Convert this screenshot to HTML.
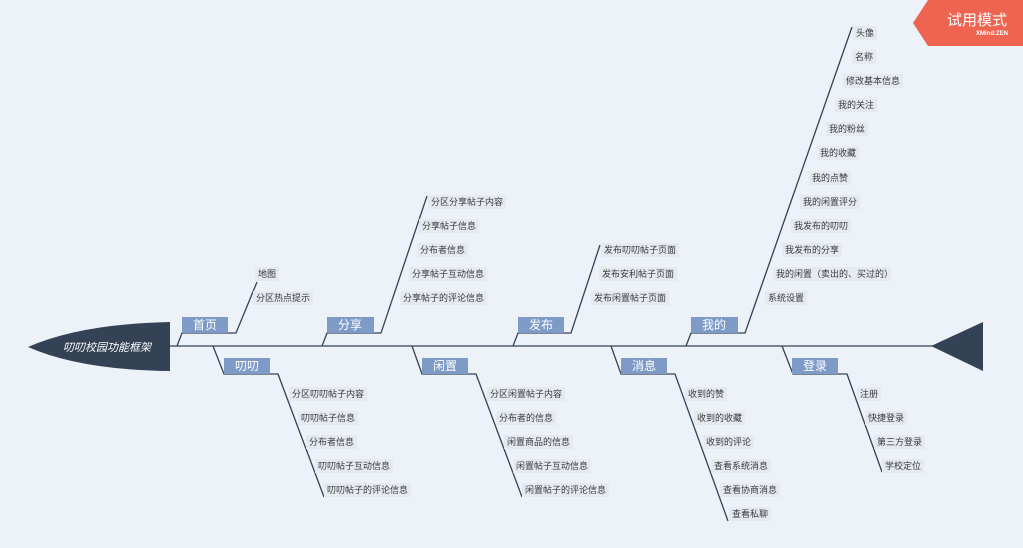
<!DOCTYPE html>
<html><head><meta charset="utf-8"><style>
html,body{margin:0;padding:0;background:#edf2f8;}
svg{display:block;font-family:"Liberation Sans","Noto Sans CJK SC",sans-serif;}
.lf{font-size:9px;fill:#3a3a3a;}
.lb{fill:#e5eaf1;}
.tp{fill:#7e9bc8;}
.tt{font-size:12px;fill:#fff;text-anchor:middle;}
.ln{stroke:#344256;stroke-width:1.3;fill:none;}
</style></head><body>
<svg width="1023" height="548" viewBox="0 0 1023 548">
<rect width="1023" height="548" fill="#edf2f8"/>
<!-- head -->
<path d="M28,347 Q80,324 170,322 L170,371 Q80,370 28,347 Z" fill="#344256"/>
<text x="107" y="351" font-size="11" fill="#fff" text-anchor="middle" font-style="italic">叨叨校园功能框架</text>
<line class="ln" x1="170" y1="346" x2="935" y2="346"/>
<polygon points="931,346 983,322 983,371" fill="#344256"/>
<!-- badge -->
<polygon points="913,23 928,0 1023,0 1023,46 928,46" fill="#ee6450"/>
<text x="977" y="25" font-size="15" fill="#fff" text-anchor="middle">试用模式</text>
<text x="1008" y="35" font-size="6" fill="#fff" text-anchor="end" font-weight="bold">XMind:ZEN</text>

<!-- upper topics -->
<polyline class="ln" points="177,346 182,333 236,333 257,282"/>
<rect class="tp" x="182" y="317" width="46" height="16"/><text class="tt" x="205" y="329">首页</text>
<polyline class="ln" points="322,346 327,333 381,333 427,196"/>
<rect class="tp" x="327" y="317" width="47" height="16"/><text class="tt" x="350" y="329">分享</text>
<polyline class="ln" points="513,346 518,333 571,333 600,245"/>
<rect class="tp" x="518" y="317" width="46" height="16"/><text class="tt" x="541" y="329">发布</text>
<polyline class="ln" points="686,346 691,333 745,333 852,27"/>
<rect class="tp" x="691" y="317" width="47" height="16"/><text class="tt" x="714" y="329">我的</text>

<!-- lower topics -->
<polyline class="ln" points="213,346 224,374 278,374 324,497"/>
<rect class="tp" x="224" y="358" width="46" height="16"/><text class="tt" x="247" y="370">叨叨</text>
<polyline class="ln" points="412,346 422,374 476,374 522,497"/>
<rect class="tp" x="422" y="358" width="46" height="16"/><text class="tt" x="445" y="370">闲置</text>
<polyline class="ln" points="611,346 621,374 675,374 728,521"/>
<rect class="tp" x="621" y="358" width="46" height="16"/><text class="tt" x="644" y="370">消息</text>
<polyline class="ln" points="782,346 793,374 847,374 882,472"/>
<rect class="tp" x="792" y="358" width="46" height="16"/><text class="tt" x="815" y="370">登录</text>

<g class="lf">
<rect class="lb" x="255" y="267" width="24" height="14"/><text x="258" y="277">地图</text>
<rect class="lb" x="253" y="291" width="60" height="14"/><text x="256" y="301">分区热点提示</text>
<rect class="lb" x="428" y="195" width="78" height="14"/><text x="431" y="205">分区分享帖子内容</text>
<rect class="lb" x="419" y="219" width="60" height="14"/><text x="422" y="229">分享帖子信息</text>
<rect class="lb" x="417" y="243" width="51" height="14"/><text x="420" y="253">分布者信息</text>
<rect class="lb" x="409" y="267" width="78" height="14"/><text x="412" y="277">分享帖子互动信息</text>
<rect class="lb" x="400" y="291" width="87" height="14"/><text x="403" y="301">分享帖子的评论信息</text>
<rect class="lb" x="601" y="243" width="78" height="14"/><text x="604" y="253">发布叨叨帖子页面</text>
<rect class="lb" x="599" y="267" width="78" height="14"/><text x="602" y="277">发布安利帖子页面</text>
<rect class="lb" x="591" y="291" width="78" height="14"/><text x="594" y="301">发布闲置帖子页面</text>
<rect class="lb" x="853" y="26" width="24" height="14"/><text x="856" y="36">头像</text>
<rect class="lb" x="852" y="50" width="24" height="14"/><text x="855" y="60">名称</text>
<rect class="lb" x="843" y="74" width="60" height="14"/><text x="846" y="84">修改基本信息</text>
<rect class="lb" x="835" y="98" width="42" height="14"/><text x="838" y="108">我的关注</text>
<rect class="lb" x="826" y="122" width="42" height="14"/><text x="829" y="132">我的粉丝</text>
<rect class="lb" x="817" y="146" width="42" height="14"/><text x="820" y="156">我的收藏</text>
<rect class="lb" x="809" y="171" width="42" height="14"/><text x="812" y="181">我的点赞</text>
<rect class="lb" x="800" y="195" width="60" height="14"/><text x="803" y="205">我的闲置评分</text>
<rect class="lb" x="791" y="219" width="60" height="14"/><text x="794" y="229">我发布的叨叨</text>
<rect class="lb" x="782" y="243" width="60" height="14"/><text x="785" y="253">我发布的分享</text>
<rect class="lb" x="773" y="267" width="118" height="14"/><text x="776" y="277">我的闲置（卖出的、买过的）</text>
<rect class="lb" x="765" y="291" width="42" height="14"/><text x="768" y="301">系统设置</text>
<rect class="lb" x="289" y="387" width="78" height="14"/><text x="292" y="397">分区叨叨帖子内容</text>
<rect class="lb" x="298" y="411" width="60" height="14"/><text x="301" y="421">叨叨帖子信息</text>
<rect class="lb" x="306" y="435" width="51" height="14"/><text x="309" y="445">分布者信息</text>
<rect class="lb" x="315" y="459" width="78" height="14"/><text x="318" y="469">叨叨帖子互动信息</text>
<rect class="lb" x="324" y="483" width="87" height="14"/><text x="327" y="493">叨叨帖子的评论信息</text>
<rect class="lb" x="487" y="387" width="78" height="14"/><text x="490" y="397">分区闲置帖子内容</text>
<rect class="lb" x="496" y="411" width="60" height="14"/><text x="499" y="421">分布者的信息</text>
<rect class="lb" x="504" y="435" width="69" height="14"/><text x="507" y="445">闲置商品的信息</text>
<rect class="lb" x="513" y="459" width="78" height="14"/><text x="516" y="469">闲置帖子互动信息</text>
<rect class="lb" x="522" y="483" width="87" height="14"/><text x="525" y="493">闲置帖子的评论信息</text>
<rect class="lb" x="685" y="387" width="42" height="14"/><text x="688" y="397">收到的赞</text>
<rect class="lb" x="694" y="411" width="51" height="14"/><text x="697" y="421">收到的收藏</text>
<rect class="lb" x="703" y="435" width="51" height="14"/><text x="706" y="445">收到的评论</text>
<rect class="lb" x="711" y="459" width="60" height="14"/><text x="714" y="469">查看系统消息</text>
<rect class="lb" x="720" y="483" width="60" height="14"/><text x="723" y="493">查看协商消息</text>
<rect class="lb" x="729" y="507" width="42" height="14"/><text x="732" y="517">查看私聊</text>
<rect class="lb" x="857" y="387" width="24" height="14"/><text x="860" y="397">注册</text>
<rect class="lb" x="865" y="411" width="42" height="14"/><text x="868" y="421">快捷登录</text>
<rect class="lb" x="874" y="435" width="51" height="14"/><text x="877" y="445">第三方登录</text>
<rect class="lb" x="882" y="459" width="42" height="14"/><text x="885" y="469">学校定位</text>
</g>
</svg>
</body></html>
